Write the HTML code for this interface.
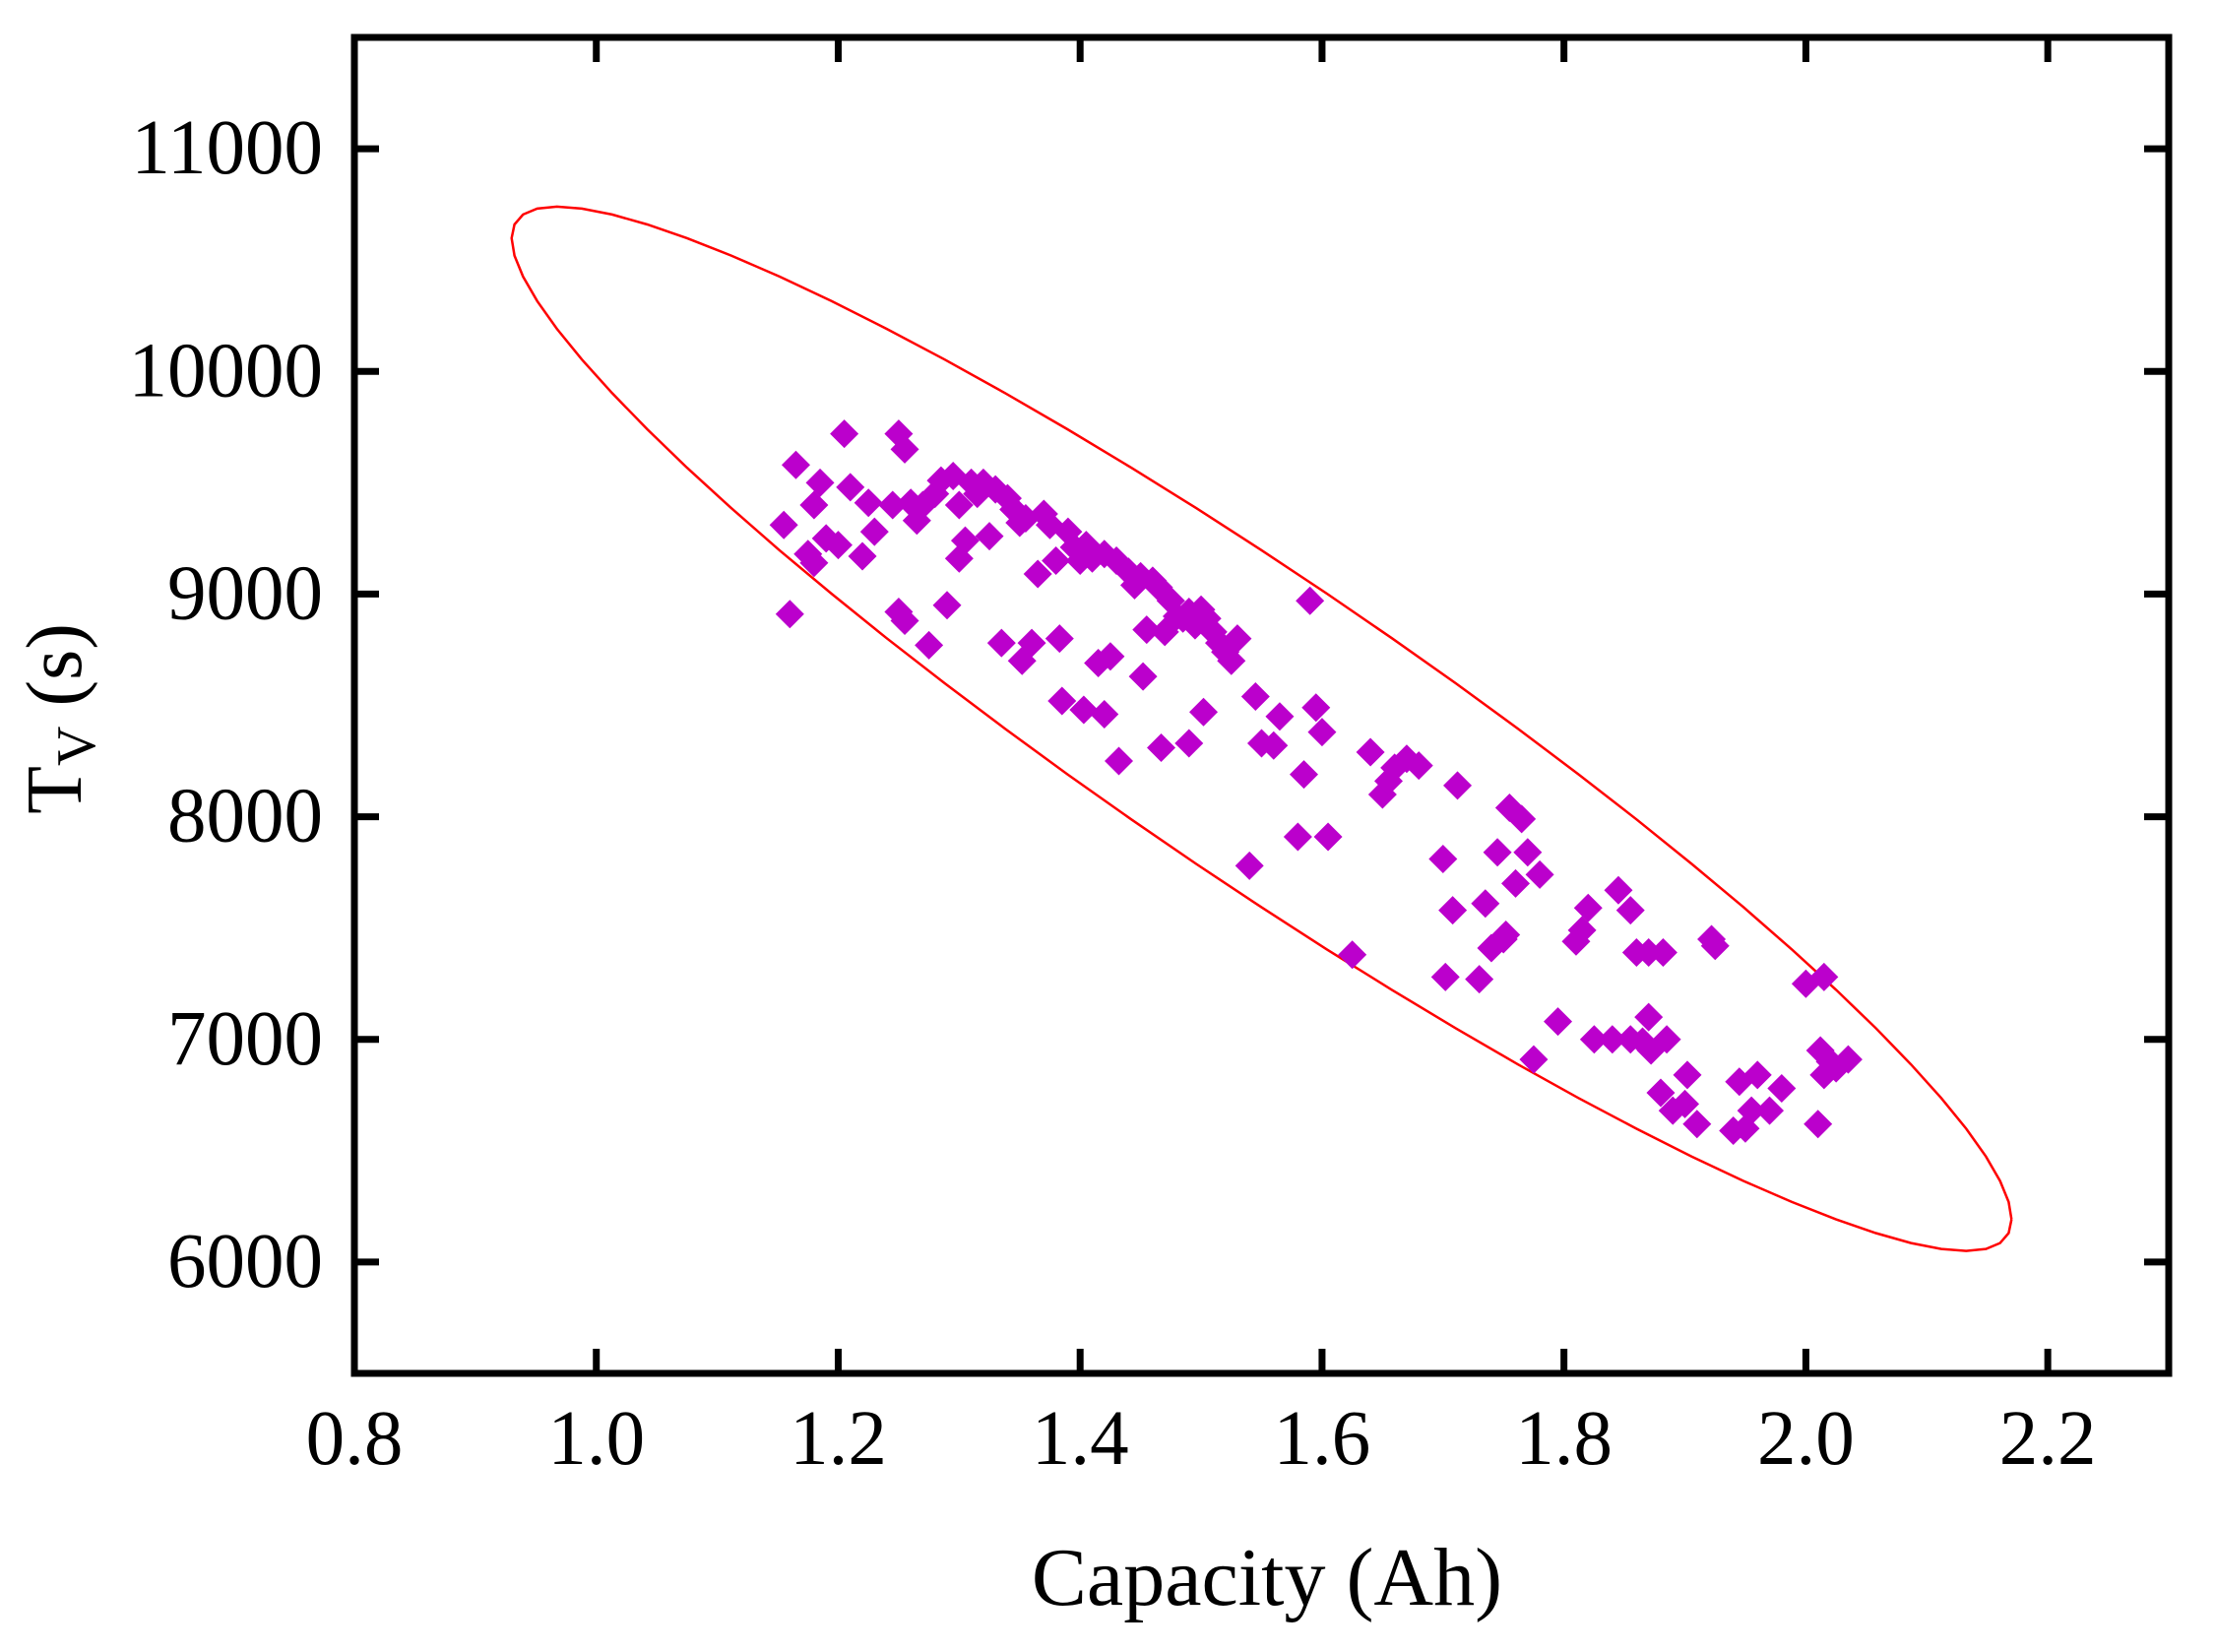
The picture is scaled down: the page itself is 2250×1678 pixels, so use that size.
<!DOCTYPE html>
<html><head><meta charset="utf-8"><style>
html,body{margin:0;padding:0;background:#fff;}
svg{display:block;}
text{font-family:"Liberation Serif",serif;fill:#000;}
</style></head><body>
<svg id="chart" width="2250" height="1678" viewBox="0 0 2250 1678" xmlns="http://www.w3.org/2000/svg">
<g id="ellipse-layer"></g>
<g id="points"></g>
<g id="axes"></g>
<text x="1287" y="1630" font-size="84" text-anchor="middle">Capacity (Ah)</text>
<text transform="translate(82,730) rotate(-90)" font-size="80" text-anchor="middle">T<tspan font-size="56" dy="14">V</tspan><tspan dy="-14"> (s)</tspan></text>
</svg>
<script>
const xTicks=[0.8,1.0,1.2,1.4,1.6,1.8,2.0,2.2];
const xTickLabels=["0.8","1.0","1.2","1.4","1.6","1.8","2.0","2.2"];
const yTicks=[6000,7000,8000,9000,10000,11000];
const yTickLabels=["6000","7000","8000","9000","10000","11000"];
const capacity=[1.155,1.16,1.165,1.175,1.18,1.18,1.185,1.19,1.2,1.205,1.21,1.22,1.225,1.23,1.245,1.25,1.25,1.255,1.255,1.26,1.265,1.27,1.275,1.28,1.285,1.29,1.295,1.3,1.3,1.305,1.31,1.315,1.32,1.325,1.33,1.335,1.34,1.345,1.35,1.352,1.355,1.36,1.365,1.37,1.375,1.38,1.383,1.385,1.39,1.395,1.4,1.403,1.405,1.41,1.415,1.42,1.42,1.425,1.43,1.432,1.44,1.445,1.45,1.452,1.455,1.46,1.465,1.467,1.47,1.475,1.48,1.485,1.49,1.49,1.495,1.5,1.502,1.505,1.51,1.515,1.52,1.525,1.53,1.54,1.545,1.55,1.56,1.565,1.58,1.585,1.59,1.595,1.6,1.605,1.625,1.64,1.65,1.655,1.66,1.67,1.68,1.7,1.702,1.708,1.712,1.73,1.735,1.74,1.745,1.75,1.752,1.755,1.76,1.765,1.77,1.775,1.78,1.795,1.81,1.815,1.82,1.825,1.84,1.845,1.855,1.855,1.86,1.865,1.87,1.87,1.872,1.88,1.882,1.885,1.89,1.9,1.902,1.91,1.922,1.925,1.94,1.945,1.95,1.955,1.96,1.97,1.98,2.0,2.01,2.012,2.015,2.015,2.02,2.025,2.035];
const timeV=[9310,8910,9580,9180,9140,9400,9500,9250,9220,9720,9480,9170,9410,9280,9400,8920,9720,9650,8880,9410,9330,9400,8770,9450,9510,8950,9530,9160,9400,9240,9500,9450,9500,9260,9470,8780,9430,9380,9320,8700,9340,8780,9090,9360,9310,9150,8800,8520,9280,9210,9150,8480,9220,9160,8690,8460,9180,8720,9150,8250,9100,9040,9080,8630,8840,9060,9030,8310,8830,8970,8900,8890,8330,8920,8860,8930,8470,8890,8830,8780,8740,8700,8800,7780,8540,8330,8320,8450,7910,8190,8970,8490,8380,7910,7380,8290,8100,8160,8220,8260,8230,7810,7280,7580,8140,7270,7610,7410,7840,7450,7470,8040,7700,7990,7840,6910,7740,7080,7440,7490,7590,7000,7000,7670,7580,7000,7390,6990,7390,7100,6950,6760,7390,7000,6680,6710,6840,6620,7450,7420,6590,6810,6600,6680,6840,6680,6780,7250,6620,6950,7280,6840,6900,6870,6910];
const ellipseCenter=[1.55,8395];
const ellipseRadii=[0.62,2345];
const ellipsePhaseDeg=160;

const NS="http://www.w3.org/2000/svg";
const L=360,R=2203,T=38,B=1395;
const X0=0.8,X1=2.3,Y0=5500,Y1=11500;
function sx(v){return L+(v-X0)/(X1-X0)*(R-L);}
function sy(v){return B-(v-Y0)/(Y1-Y0)*(B-T);}
function mk(tag,attrs,parent){const e=document.createElementNS(NS,tag);for(const k in attrs)e.setAttribute(k,attrs[k]);parent.appendChild(e);return e;}

const eg=document.getElementById('ellipse-layer');
let pts=[];const ph=ellipsePhaseDeg*Math.PI/180;
for(let i=0;i<=72;i++){const t=i/72*2*Math.PI;
 const x=ellipseCenter[0]+ellipseRadii[0]*Math.cos(t);
 const y=ellipseCenter[1]+ellipseRadii[1]*Math.cos(t+ph);
 pts.push(sx(x).toFixed(1)+","+sy(y).toFixed(1));}
const el=mk('polyline',{points:pts.join(' '),fill:'none',stroke:'#ff0000','stroke-width':2.5},eg);



const pg=document.getElementById('points');const h=14.5;
for(let i=0;i<capacity.length;i++){const cx=sx(capacity[i]),cy=sy(timeV[i]);
 const p=mk('polygon',{points:`${cx},${cy-h} ${cx+h},${cy} ${cx},${cy+h} ${cx-h},${cy}`,fill:'#bb00cc'},pg);
 
 }

const ag=document.getElementById('axes');
const fr=mk('rect',{x:L,y:T,width:R-L,height:B-T,fill:'none',stroke:'#000','stroke-width':7},ag);


xTicks.forEach((v,i)=>{const x=sx(v);
 mk('line',{x1:x,y1:B,x2:x,y2:B-25,stroke:'#000','stroke-width':7},ag);
 mk('line',{x1:x,y1:T,x2:x,y2:T+25,stroke:'#000','stroke-width':7},ag);
 const t=mk('text',{x:x,y:1487,'font-size':79,'text-anchor':'middle'},ag);t.textContent=xTickLabels[i];
 
 });
yTicks.forEach((v,i)=>{const y=sy(v);
 mk('line',{x1:L,y1:y,x2:L+25,y2:y,stroke:'#000','stroke-width':7},ag);
 mk('line',{x1:R,y1:y,x2:R-25,y2:y,stroke:'#000','stroke-width':7},ag);
 const t=mk('text',{x:328,y:y+25,'font-size':79,'text-anchor':'end'},ag);t.textContent=yTickLabels[i];
 
 });
</script>
</body></html>
